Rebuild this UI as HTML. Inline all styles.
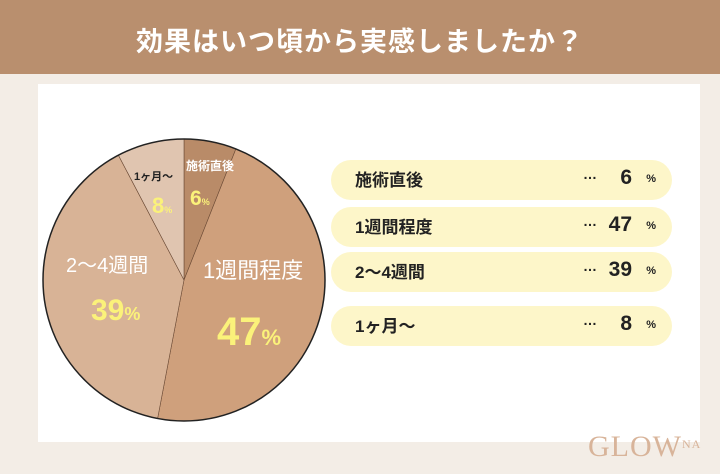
<!DOCTYPE html>
<html><head><meta charset="utf-8"><style>
body{margin:0;width:720px;height:474px;overflow:hidden;background:#f3ede6;font-family:"Liberation Sans","Noto Sans CJK JP",sans-serif;position:relative}
.hdr{position:absolute;left:0;top:0;width:720px;height:74px;background:#b98f6e;color:#fff;font-size:27px;font-weight:bold;text-align:center;line-height:84px;letter-spacing:1px}
.card{position:absolute;left:38px;top:84px;width:662px;height:358px;background:#fff}
.pill{position:absolute;left:331px;width:341px;height:40px;border-radius:20px;background:#fdf6c9;font-weight:bold;font-size:17px;color:#222}
.pill .l{position:absolute;left:24px;top:6px}
.pill .d{position:absolute;left:252px;top:6px;font-size:14px}
.pill .v{position:absolute;right:40px;top:6px;font-size:21px;width:60px;text-align:right}
.pill .p{position:absolute;right:16px;top:13px;font-size:11px}
.logo{position:absolute;left:588px;top:430px;font-family:"Liberation Serif",serif;font-size:30px;color:#d8b49a;letter-spacing:1px}
</style></head><body>
<div class="hdr">効果はいつ頃から実感しましたか？</div>
<div class="card"></div>
<svg style="position:absolute;left:0;top:0" width="720" height="474">
<g stroke="#6b4a35" stroke-width="0.6">
<path d="M184,280 L184,139 A141,141 0 0 1 235.9,148.9 Z" fill="#b98b68"/>
<path d="M184,280 L235.9,148.9 A141,141 0 0 1 157.6,418.5 Z" fill="#cfa07c"/>
<path d="M184,280 L157.6,418.5 A141,141 0 0 1 118.4,155.2 Z" fill="#d8b396"/>
<path d="M184,280 L118.4,155.2 A141,141 0 0 1 184,139 Z" fill="#e0c5b0"/>
</g>
<circle cx="184" cy="280" r="141" fill="none" stroke="#222" stroke-width="1.5"/>
<g font-family="Liberation Sans,Noto Sans CJK JP,sans-serif" font-weight="bold">
<text x="186" y="170" font-size="12" fill="#fff">施術直後</text>
<text x="190" y="205" font-size="21" fill="#fbf27a">6<tspan font-size="9">%</tspan></text>
<text x="134" y="180" font-size="11" fill="#222">1ヶ月〜</text>
<text x="152" y="213" font-size="22" fill="#fbf27a">8<tspan font-size="9">%</tspan></text>
<text x="66" y="272" font-size="20" fill="#fff" font-weight="normal">2〜4週間</text>
<text x="91" y="320" font-size="30" fill="#fbf27a">39<tspan font-size="18">%</tspan></text>
<text x="203" y="278" font-size="22" fill="#fff" font-weight="normal">1週間程度</text>
<text x="217" y="345" font-size="40" fill="#fbf27a">47<tspan font-size="22">%</tspan></text>
</g>
</svg>
<div class="pill" style="top:160px"><span class="l">施術直後</span><span class="d">…</span><span class="v">6</span><span class="p">%</span></div>
<div class="pill" style="top:207px"><span class="l">1週間程度</span><span class="d">…</span><span class="v">47</span><span class="p">%</span></div>
<div class="pill" style="top:252px"><span class="l">2〜4週間</span><span class="d">…</span><span class="v">39</span><span class="p">%</span></div>
<div class="pill" style="top:306px"><span class="l">1ヶ月〜</span><span class="d">…</span><span class="v">8</span><span class="p">%</span></div>
<div class="logo">GLOW<span style="font-size:12px;vertical-align:8px">NA</span></div>
</body></html>
